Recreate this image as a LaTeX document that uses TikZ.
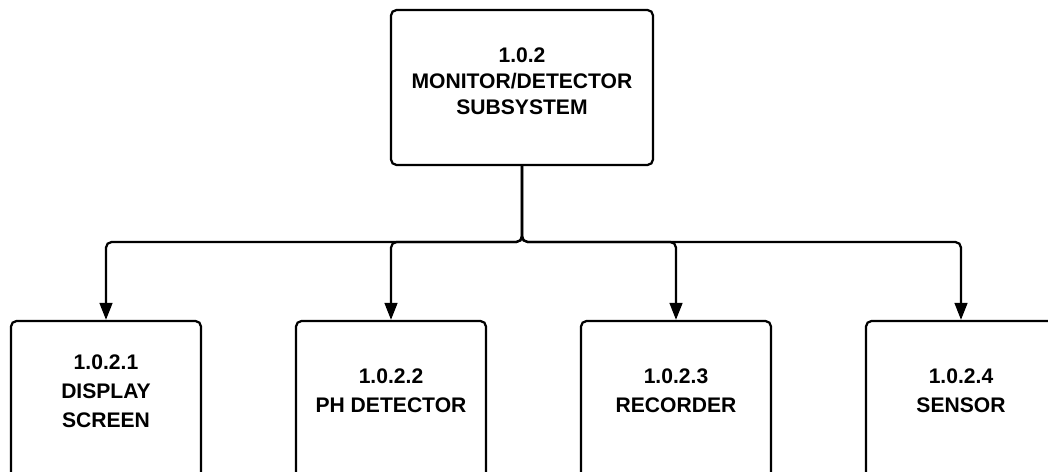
\documentclass[tikz,border=0pt]{standalone}
\usepackage{fontspec}
\setmainfont{Liberation Sans}
\usetikzlibrary{arrows.meta}

\begin{document}
\begin{tikzpicture}
    [
    x=0.025cm, y=-0.025cm,
    every node/.style={font=\fontsize{15}{18.5}\selectfont\bfseries},
    block/.style={rectangle, rounded corners=4pt, draw, line width=1.6pt, align=center},
    child/.style={block, minimum width=4.75cm, minimum height=4cm, text depth=0.5cm, font=\fontsize{15}{20.5}\selectfont\bfseries},
    arrow/.style={-{Triangle[length=12pt,width=9pt]}, line width=1.6pt, rounded corners=4pt}
    ]

% Frame
    \useasboundingbox (0,0) rectangle (1048,472);
    \clip (0,0) rectangle (1048,472);

% Parent
    \node[block, minimum width=6.55cm, minimum height=3.875cm, text depth=0.3cm] (monitor) at (522,87.5) {1.0.2\\MONITOR/DETECTOR\\SUBSYSTEM};

% Children
    \node[child] (display) at (106,401) {1.0.2.1\\DISPLAY\\SCREEN};
    \node[child] (ph) at (391,401) {1.0.2.2\\PH DETECTOR};
    \node[child] (recorder) at (676,401) {1.0.2.3\\RECORDER};
    \node[child] (sensor) at (961,401) {1.0.2.4\\SENSOR};

% Arrows
    \coordinate (bus) at (522,242);
    \draw[arrow] (monitor.south) -- (bus) -| (display.north);
    \draw[arrow] (monitor.south) -- (bus) -| (ph.north);
    \draw[arrow] (monitor.south) -- (bus) -| (recorder.north);
    \draw[arrow] (monitor.south) -- (bus) -| (sensor.north);

\end{tikzpicture}
\end{document}
